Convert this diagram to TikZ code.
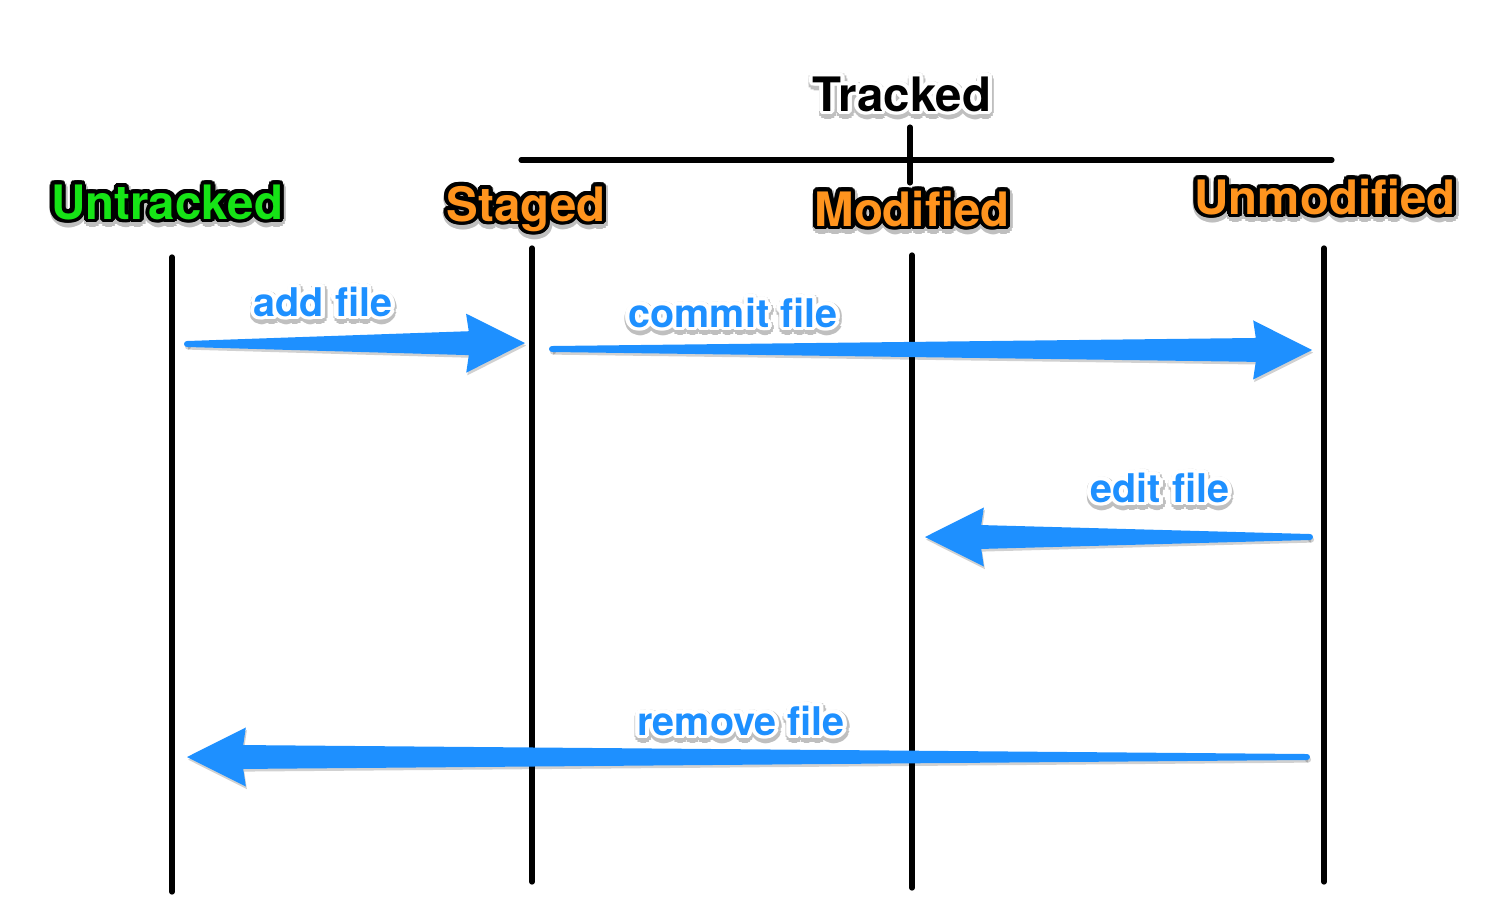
\documentclass[tikz,border=0pt]{standalone}
\usepackage{fontspec}
\setmainfont{TeX Gyre Heros}
\usetikzlibrary{calc}

\definecolor{stategreen}{RGB}{22,228,22}
\definecolor{stateorange}{RGB}{255,148,30}
\definecolor{actionblue}{RGB}{30,144,255}

% text with a ring round it and a soft shadow
\newcommand\ringtext[3]{%
  \foreach \ang in {0,30,...,330}{%
    \pgfmathsetlengthmacro\ringx{3.2pt*cos(\ang)+0.5pt}%
    \pgfmathsetlengthmacro\ringy{3.2pt*sin(\ang)-1.4pt}%
    \rlap{\hspace*{\ringx}\raisebox{\ringy}{\color{black!25}#3}}}%
  \foreach \ang in {0,20,...,340}{%
    \pgfmathsetlengthmacro\ringx{2.3pt*cos(\ang)}%
    \pgfmathsetlengthmacro\ringy{2.3pt*sin(\ang)}%
    \rlap{\hspace*{\ringx}\raisebox{\ringy}{\color{#1}#3}}}%
  {\color{#2}#3}}

\tikzstyle{lifeline}=[line width=3pt,line cap=round]
\tikzstyle{bracket}=[line width=2.9pt,line cap=round]
\tikzstyle{state}=[inner sep=0pt,anchor=base,font=\fontsize{27}{31}\selectfont\bfseries]
\tikzstyle{action}=[inner sep=0pt,anchor=base,font=\fontsize{22.5}{27}\selectfont\bfseries]
\tikzstyle{flow}=[fill=actionblue]
\tikzstyle{flow_shadow}=[fill=black,opacity=0.18]

% tapered arrow from #2 (tail) to #3 (tip)
\newcommand\flowshape[3]{%
  \coordinate (hb) at ($(#3)!32pt!(#2)$);
  \coordinate (bb) at ($(#3)!33.5pt!(#2)$);
  \fill[#1] ($(#2)!1.7pt!90:(#3)$) -- ($(hb)!6.8pt!-90:(#2)$)
        -- ($(bb)!16.8pt!-90:(#2)$) -- (#3)
        -- ($(bb)!16.8pt!90:(#2)$) -- ($(hb)!6.8pt!90:(#2)$)
        -- ($(#2)!1.7pt!-90:(#3)$) -- cycle;
  \fill[#1] (#2) circle (1.7pt);
}
\newcommand\flowarrow[2]{%
  \begin{scope}[transform canvas={shift={(0.6pt,-1.5pt)}}]
    \flowshape{flow_shadow}{#1}{#2}
  \end{scope}
  \flowshape{flow}{#1}{#2}
}

\begin{document}
\begin{tikzpicture}[x=0.02cm,y=-0.02cm]
\useasboundingbox (0,0) rectangle (1512,916);

% states
\node[state] (untracked) at (167,219) {\ringtext{black}{stategreen}{Untracked}};
\node[state] (staged) at (526,221) {\ringtext{black}{stateorange}{Staged}};
\node[state] (modified) at (912,226) {\ringtext{black}{stateorange}{Modified}};
\node[state] (unmodified) at (1325,214) {\ringtext{black}{stateorange}{Unmodified}};
\node[state] (tracked) at (902,111) {\ringtext{white}{black}{Tracked}};

\coordinate (untrackedTop) at (172,257);  \coordinate (untrackedBot) at (172,892);
\coordinate (stagedTop) at (532,248);     \coordinate (stagedBot) at (532,882);
\coordinate (modifiedTop) at (912,255);   \coordinate (modifiedBot) at (912,888);
\coordinate (unmodifiedTop) at (1324,248); \coordinate (unmodifiedBot) at (1324,882);

\draw[lifeline] (untrackedTop) -- (untrackedBot);
\draw[lifeline] (stagedTop) -- (stagedBot);
\draw[lifeline] (modifiedTop) -- (modifiedBot);
\draw[lifeline] (unmodifiedTop) -- (unmodifiedBot);

% tracked bracket
\coordinate (bracketL) at (521,160);
\coordinate (bracketR) at (1332,160);
\coordinate (tickTop) at (910,127);
\coordinate (tickBot) at (910,183);
\draw[bracket] (bracketL) -- (bracketR);
\draw[bracket] (tickTop) -- (tickBot);

% actions
\coordinate (addTail) at (187,344);     \coordinate (addTip) at (525,343);
\coordinate (commitTail) at (552,349);  \coordinate (commitTip) at (1312,350);
\coordinate (editTail) at (1310,537);   \coordinate (editTip) at (925,537);
\coordinate (removeTail) at (1307,757); \coordinate (removeTip) at (187,757);

\flowarrow{addTail}{addTip}
\flowarrow{commitTail}{commitTip}
\flowarrow{editTail}{editTip}
\flowarrow{removeTail}{removeTip}

\node[action] (add) at (323,316) {\ringtext{white}{actionblue}{add file}};
\node[action] (commit) at (733,327) {\ringtext{white}{actionblue}{commit file}};
\node[action] (edit) at (1160,502) {\ringtext{white}{actionblue}{edit file}};
\node[action] (remove) at (741,735) {\ringtext{white}{actionblue}{remove file}};
\end{tikzpicture}
\end{document}
